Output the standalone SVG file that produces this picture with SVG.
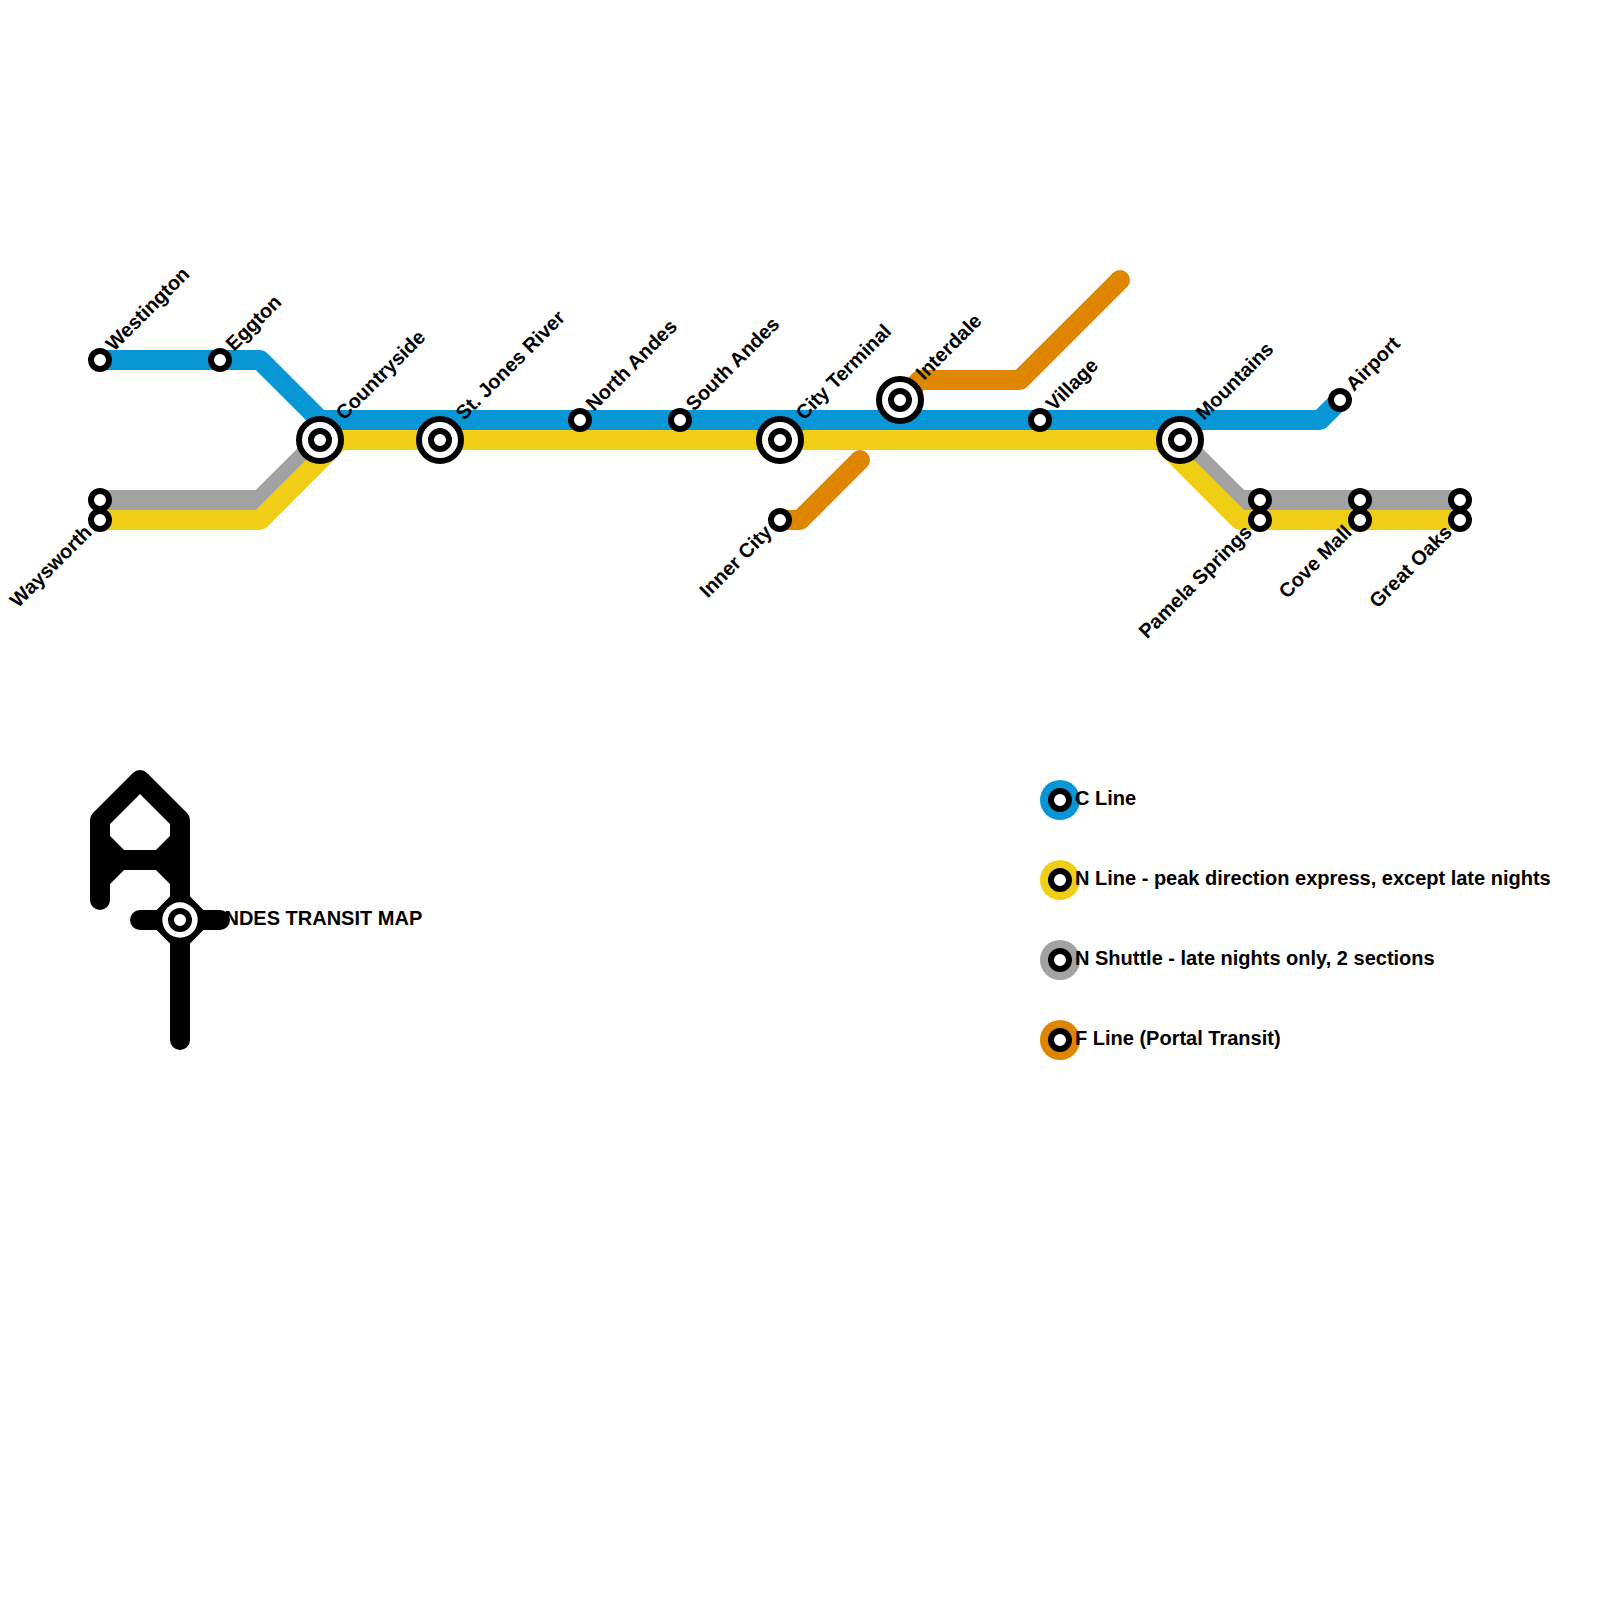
<svg xmlns="http://www.w3.org/2000/svg" width="1600" height="1600" viewBox="0 0 1600 1600">
<style>
text{font-family:"Liberation Sans",Arial,sans-serif;font-weight:700;font-size:20px;fill:#000}
.l{fill:none;stroke-width:20;stroke-linejoin:round;stroke-linecap:butt}
.c{stroke:#0896d7}.n{stroke:#f0ce15}.s{stroke:#a2a2a2}.f{stroke:#df8600}.k{stroke:#000;stroke-linecap:round}
.o{fill:#fff;stroke:#000;stroke-width:6}
.w{fill:#fff}
</style>
<defs>
<g id="small"><circle r="9" class="o"/></g>
<g id="big"><circle r="21" class="o"/><circle r="9" class="o"/></g>
</defs>
<rect width="1600" height="1600" fill="#fff"/>
<g id="connectors">
<path class="l s" d="M100 500H260L320 440"/>
<path class="l s" d="M1180 440L1240 500H1460"/>
<path class="l n" d="M100 520H260L340 440H1160L1240 520H1460"/>
<path class="l c" d="M100 360H260L320 420H1320L1340 400"/>
<path class="l f" d="M780 520H800L860 460"/>
<circle cx="860" cy="460" r="10" fill="#df8600"/>
<path class="l f" d="M900 400L920 380H1020L1120 280"/>
<circle cx="1120" cy="280" r="10" fill="#df8600"/>
</g>
<g id="logo">
<path class="l k" d="M100 900V820L140 780L180 820V1040"/>
<path class="l k" d="M100 840L120 860H160L180 840M100 880L120 860M160 860L180 880M140 920H220"/>
<polygon points="170,896.5 190,896.5 203.5,910 203.5,930 190,943.5 170,943.5 156.5,930 156.5,910" fill="#000"/>
<circle cx="180" cy="920" r="17.7" class="w"/>
<circle cx="180" cy="920" r="9" class="o"/>
<text x="210" y="924.5">ANDES TRANSIT MAP</text>
</g>
<g id="legend">
<g id="legend-c"><circle cx="1060" cy="800" r="20" fill="#0896d7"/><use href="#small" x="1060" y="800"/><text x="1075" y="805">C Line</text></g>
<g id="legend-n"><circle cx="1060" cy="880" r="20" fill="#f0ce15"/><use href="#small" x="1060" y="880"/><text x="1075" y="885">N Line - peak direction express, except late nights</text></g>
<g id="legend-s"><circle cx="1060" cy="960" r="20" fill="#a2a2a2"/><use href="#small" x="1060" y="960"/><text x="1075" y="965">N Shuttle - late nights only, 2 sections</text></g>
<g id="legend-f"><circle cx="1060" cy="1040" r="20" fill="#df8600"/><use href="#small" x="1060" y="1040"/><text x="1075" y="1045">F Line (Portal Transit)</text></g>
</g>
<g id="st-westington"><use href="#small" x="100" y="360"/><text transform="translate(114 352) rotate(-45)">Westington</text></g>
<g id="st-eggton"><use href="#small" x="220" y="360"/><text transform="translate(234 352) rotate(-45)">Eggton</text></g>
<g id="st-countryside"><use href="#big" x="320" y="440"/><text transform="translate(344 421) rotate(-45)">Countryside</text></g>
<g id="st-stjones"><use href="#big" x="440" y="440"/><text transform="translate(464 421) rotate(-45)">St. Jones River</text></g>
<g id="st-northandes"><use href="#small" x="580" y="420"/><text transform="translate(594 412) rotate(-45)">North Andes</text></g>
<g id="st-southandes"><use href="#small" x="680" y="420"/><text transform="translate(694 412) rotate(-45)">South Andes</text></g>
<g id="st-cityterminal"><use href="#big" x="780" y="440"/><text transform="translate(804 421) rotate(-45)">City Terminal</text></g>
<g id="st-interdale"><use href="#big" x="900" y="400"/><text transform="translate(924 381) rotate(-45)">Interdale</text></g>
<g id="st-village"><use href="#small" x="1040" y="420"/><text transform="translate(1054 412) rotate(-45)">Village</text></g>
<g id="st-mountains"><use href="#big" x="1180" y="440"/><text transform="translate(1204 421) rotate(-45)">Mountains</text></g>
<g id="st-airport"><use href="#small" x="1340" y="400"/><text transform="translate(1354 392) rotate(-45)">Airport</text></g>
<g id="st-waysworth"><use href="#small" x="100" y="500"/><use href="#small" x="100" y="520"/><text text-anchor="end" transform="translate(93 533.5) rotate(-45)">Waysworth</text></g>
<g id="st-pamela"><use href="#small" x="1260" y="500"/><use href="#small" x="1260" y="520"/><text text-anchor="end" transform="translate(1253 533.5) rotate(-45)">Pamela Springs</text></g>
<g id="st-cove"><use href="#small" x="1360" y="500"/><use href="#small" x="1360" y="520"/><text text-anchor="end" transform="translate(1353 533.5) rotate(-45)">Cove Mall</text></g>
<g id="st-great"><use href="#small" x="1460" y="500"/><use href="#small" x="1460" y="520"/><text text-anchor="end" transform="translate(1453 533.5) rotate(-45)">Great Oaks</text></g>
<g id="st-innercity"><use href="#small" x="780" y="520"/><text text-anchor="end" transform="translate(773 533.5) rotate(-45)">Inner City</text></g>
</svg>
